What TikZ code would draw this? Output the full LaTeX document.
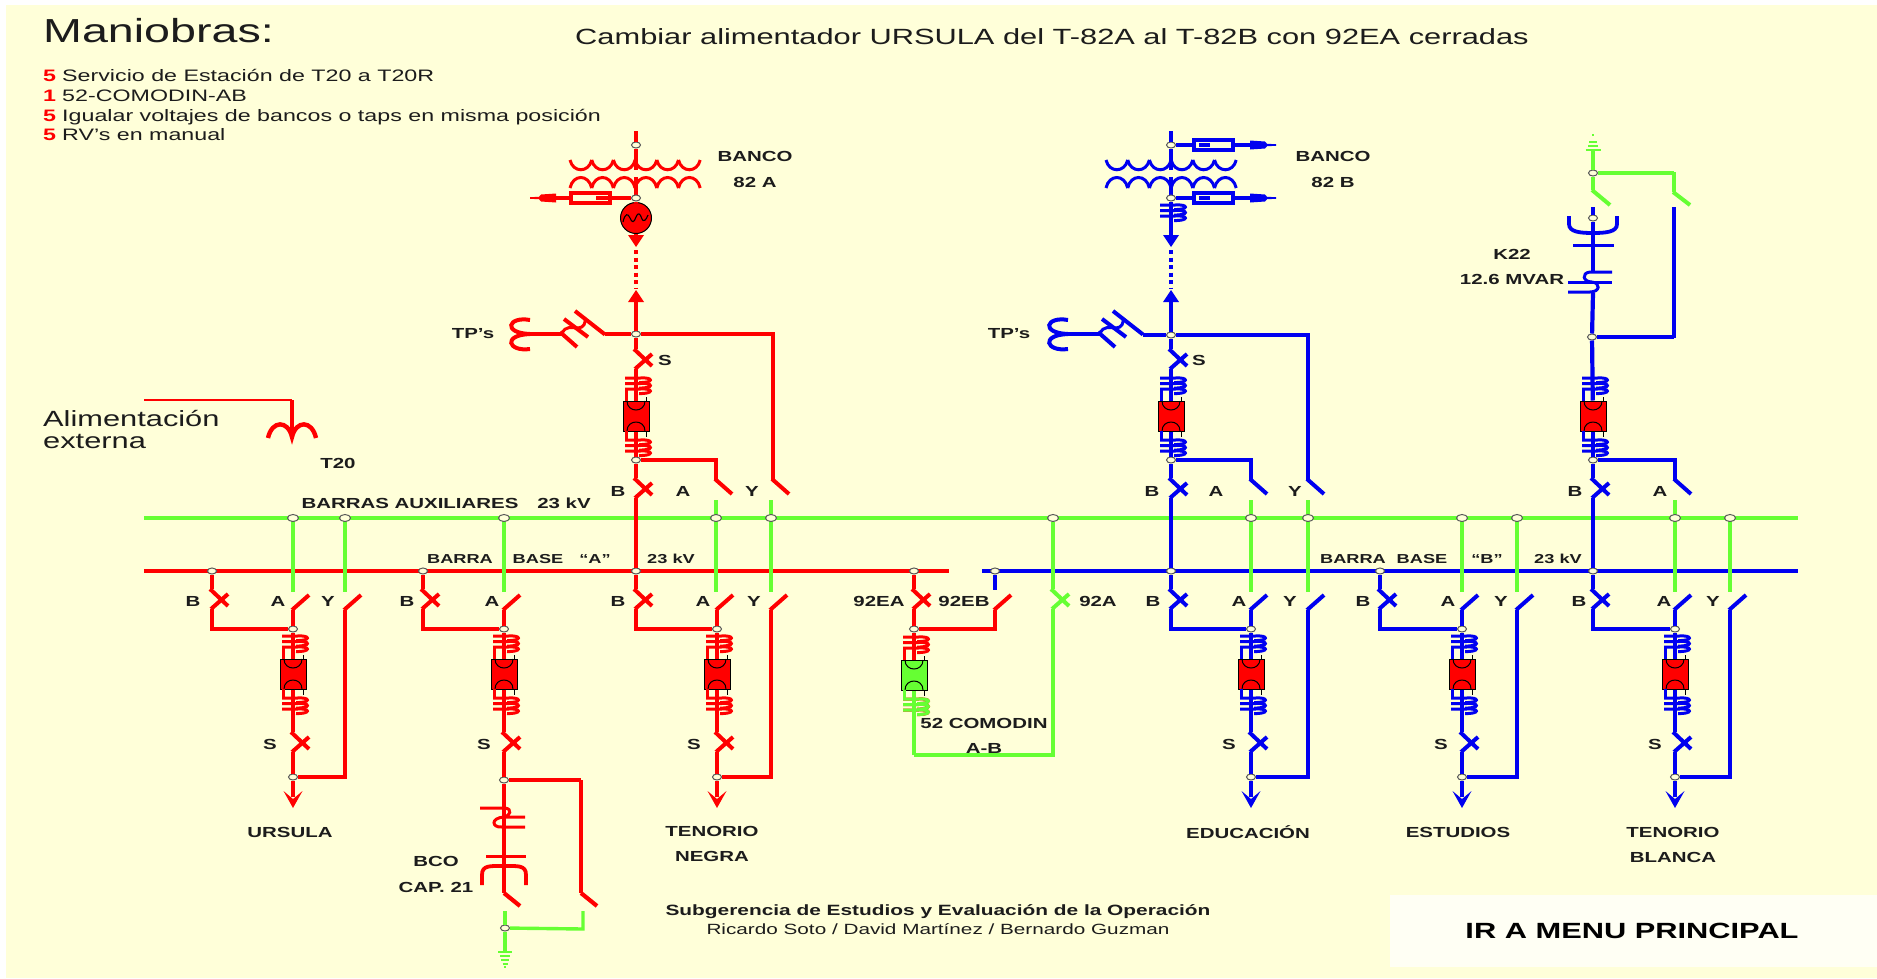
\documentclass[tikz,border=0pt]{standalone}
\usepackage{fontspec}
\setmainfont{Liberation Sans}[FakeStretch=1.4]
\usetikzlibrary{shapes.geometric,calc}
\definecolor{rd}{HTML}{FF0000}
\definecolor{bl}{HTML}{0000F0}
\definecolor{gr}{HTML}{66FF33}
\definecolor{cream}{HTML}{FFFFD9}
\definecolor{boxw}{HTML}{FFFFF4}
\definecolor{txt}{HTML}{1C1C1C}
\tikzset{
  jn/.style={ellipse,draw=black!65,fill=cream,line width=1pt,inner sep=0pt,minimum width=9pt,minimum height=6pt},
  jnb/.style={jn,minimum width=11pt,minimum height=7pt},
  wire/.style={line width=4.2pt},
  thinwire/.style={line width=3.4pt},
  stub/.style={line width=4.8pt},
  bus/.style={line width=3.8pt},
  blade/.style={line width=4pt},
  bar/.style={line width=3pt},
  brkbox/.style={rectangle,draw=black,line width=1pt,inner sep=0pt,minimum width=26pt,minimum height=30pt},
  fuse/.style={rectangle,line width=3.4pt,inner sep=0pt,minimum width=39pt,minimum height=10pt},
  lb/.style={font=\fontsize{14.6}{17}\bfseries\selectfont,text=txt,inner sep=0pt},
  lbs/.style={lb,font=\fontsize{13}{17}\bfseries\selectfont},
}
% closed switch (cross)
\newcommand\xsw[4]{%
  \coordinate (#1t) at (#2,#3-11); \coordinate (#1b) at (#2,#3+9);
  \draw[#4,blade] (#2-2,#3-11) -- (#2+16,#3+6);
  \draw[#4,blade] (#2-1,#3+9) -- (#2+16,#3-6);}
% open switch below a bar, blade rising to the right
\newcommand\swup[3]{%
  \coordinate (#1b) at (#2,610);
  \draw[#3,blade] (#2-1,610) -- (#2+16,595);}
% open switch above a bar
\newcommand\swdn[3]{%
  \coordinate (#1t) at (#2,480);
  \draw[#3,blade] (#2-1,479) -- (#2+16,494);}
% current transformer: three bars
\newcommand\ctc[3]{%
  \foreach \i in {0,5.5,11}{%
    \draw[#3,bar] (#1-11,#2+\i) -- (#1+4,#2+\i) .. controls (#1+18,#2+\i-1) and (#1+18,#2+\i+5) .. (#1+3,#2+\i+4.5);}}
% breaker with its two current transformers
\newcommand\brk[5]{%
  \node[brkbox,fill=#4] (#1) at (#2,#3) {};
  \draw[black,line width=1pt] (#2-9,#3-15) .. controls (#2-9,#3-3) and (#2+9,#3-3) .. (#2+9,#3-15);
  \draw[black,line width=1pt] (#2-9,#3+15) .. controls (#2-9,#3+3) and (#2+9,#3+3) .. (#2+9,#3+15);
  \draw[black,line width=1pt] (#2+10,#3-19) -- (#2+10,#3-15) (#2+10,#3+15) -- (#2+10,#3+21);
  \ctc{#2}{#3-38}{#5}
  \draw[#5,bar] (#2-10,#3-27) -- (#2-10,#3-15);
  \ctc{#2}{#3+24}{#5}
  \draw[#5,bar] (#2-10,#3+15) -- (#2-10,#3+24);}
% arrow heads
\newcommand\hddn[3]{\fill[#3] (#1,#2) -- (#1-9.5,#2-17) -- (#1,#2-9) -- (#1+9.5,#2-17) -- cycle;}
\newcommand\hdup[3]{\fill[#3] (#1,#2) -- (#1-8,#2+12) -- (#1+8,#2+12) -- cycle;}
\newcommand\hdsolid[3]{\fill[#3] (#1,#2) -- (#1-8,#2-12) -- (#1+8,#2-12) -- cycle;}
\newcommand\hdlat[4]{\fill[#4] (#1,#2-4.5) -- (#1+#3*15,#2-3.5) -- (#1+#3*17,#2-1.2) -- (#1+#3*26,#2-.8) -- (#1+#3*26,#2+.8) -- (#1+#3*17,#2+1.2) -- (#1+#3*15,#2+3.5) -- (#1,#2+4.5) -- cycle;}
% feeder from its A switch to its lower junction
\newcommand\feed[4]{%
  \node[jn] (#1j) at (#2,629) {};
  \brk{#1k}{#2}{674}{rd}{#3}
  \xsw{#1s}{#2}{743}{#3}
  \node[jn] (#1e) at (#2,#4) {};
  \swup{#1a}{#2}{#3}
  \draw[#3,wire] (#1ab) -- (#1j);
  \draw[#3,wire] (#1j) -- (#1k);
  \draw[#3,wire] (#1k) -- (#1st);
  \draw[#3,wire] (#1sb) -- (#1e);}
\newcommand\bsw[5]{%
  \xsw{#1x}{#3}{600}{#5}
  \draw[#5,wire] (#2) -- (#1xt);
  \draw[#5,thinwire] (#1xb) |- (#4);}
\newcommand\ysw[4]{%
  \swup{#1y}{#2}{#4}
  \draw[#4,wire] (#1yb) |- (#3);}
\newcommand\outarrow[4]{%
  \coordinate (#1tip) at (#2,808);
  \draw[#3,wire] (#4) -- (#2,797);
  \hddn{#2}{808}{#3}}
\newcommand\gstub[4]{%
  \coordinate (#1p) at (#2,#3); \coordinate (#1q) at (#2,592);
  \draw[gr,stub] (#1p) -- (#1q);
  \node[#4] (#1n) at (#2,518) {};}
\newcommand\winding[4]{%
  \foreach \i in {0,...,5}{%
    \draw[#4,line width=3pt] (#1+21.7*\i,#2) .. controls (#1+21.7*\i+3,#2+#3) and (#1+21.7*\i+18.7,#2+#3) .. (#1+21.7*\i+21.7,#2);}}
\newcommand\tpsym[2]{%
  \begin{scope}[shift={(#1,0)}]
    \draw[#2,line width=4pt] (530,320) .. controls (508,316) and (502,333) .. (530,334) .. controls (502,335) and (508,352) .. (530,349);
    \draw[#2,thinwire] (530,334) -- (562,334);
    \draw[#2,blade] (575,311) -- (605,334.5);
    \draw[#2,blade] (564,319) -- (588,337);
    \draw[#2,blade] (560,332) -- (577,347);
    \draw[#2,bar] (562,334) .. controls (565,325) and (572,328) .. (578,328) .. controls (584,328) and (586,322) .. (585,318);
  \end{scope}}
\newcommand\lbl[4]{\node[lb] (#1) at (#2,#3) {#4};}
\newcommand\lbs[4]{\node[lbs] (#1) at (#2,#3) {#4};}
\begin{document}
\begin{tikzpicture}[x=1pt,y=-1pt]
\useasboundingbox (0,0) rectangle (1877,978);
\fill[white] (0,0) rectangle (1877,978);
\fill[cream] (6,5) rectangle (1877,978);
\fill[boxw] (1390,895) rectangle (1877,967);

% bars
\coordinate (ra) at (144,571); \coordinate (rz) at (949,571);
\coordinate (ba) at (982,571); \coordinate (bz) at (1798,571);
\coordinate (ga) at (144,518); \coordinate (gz) at (1798,518);
\draw[rd,bus] (ra) -- (rz);
\draw[bl,bus] (ba) -- (bz);
\draw[gr,bus] (ga) -- (gz);

% green stubs and junctions on the auxiliary bar
\gstub{g1}{293}{518}{jnb}
\gstub{g2}{345}{518}{jnb}
\gstub{g3}{504}{518}{jnb}
\gstub{g4}{716}{500}{jnb}
\gstub{g5}{771}{500}{jnb}
\gstub{g6}{1251}{500}{jnb}
\gstub{g7}{1308}{500}{jnb}
\gstub{g8}{1462}{518}{jnb}
\gstub{g9}{1517}{518}{jnb}
\gstub{g10}{1675}{500}{jnb}
\gstub{g11}{1730}{518}{jnb}
\node[jnb] (g92) at (1053,518) {};

% junctions on the base bars
\node[jn] (rb1) at (212,571) {};
\node[jn] (rb2) at (423,571) {};
\node[jn] (rb3) at (636,571) {};
\node[jn] (rb4) at (914,571) {};
\node[jn] (bb0) at (995,571) {};
\node[jn] (bb1) at (1171,571) {};
\node[jn] (bb2) at (1380,571) {};
\node[jn] (bb3) at (1593,571) {};

% feeder URSULA
\feed{u}{293}{rd}{777}
\bsw{u}{rb1}{212}{uj}{rd}
\ysw{u}{345}{ue}{rd}
\outarrow{u}{293}{rd}{ue}

% feeder with capacitor bank
\feed{c}{504}{rd}{780}
\bsw{c}{rb2}{423}{cj}{rd}
\coordinate (c1) at (504,893); \coordinate (c2) at (581,893);
\draw[rd,wire] (ce) -- (c1);
\draw[rd,wire] (c1) -- (520,906);
\draw[rd,thinwire] (ce) -- (581,780);
\draw[rd,stub] (581,780) -- (c2);
\draw[rd,wire] (c2) -- (597,906);
\draw[rd,bar] (480,808) -- (505,808) .. controls (513,809) and (510,816) .. (504,817) -- (525,817);
\draw[rd,bar] (504,817) .. controls (490,818) and (492,828) .. (502,827) -- (525,827);
\draw[rd,bar] (486,856) -- (526,856);
\draw[rd,line width=3.8pt] (482,885) -- (482,875) .. controls (482,865) and (490,866) .. (504,866) .. controls (518,866) and (526,865) .. (526,875) -- (526,885);
\node[jn] (cg) at (505,928) {};
\coordinate (cg1) at (505,911); \coordinate (cg2) at (583,911);
\draw[gr,stub] (cg1) -- (cg);
\draw[gr,stub] (cg) -- (505,952);
\draw[gr,thinwire] (cg) -- (583,929) -- (cg2);
\foreach \w/\yy in {7/952,5/956,4/960,2.5/964,1/967}{\draw[gr,line width=1.8pt] (505-\w,\yy) -- (505+\w,\yy);}

% feeder TENORIO NEGRA
\feed{t}{717}{rd}{777}
\bsw{t}{rb3}{636}{tj}{rd}
\ysw{t}{771}{te}{rd}
\outarrow{t}{717}{rd}{te}

% tie 92EA / 92EB / 52 COMODIN
\node[jn] (kj) at (914,629) {};
\brk{kk}{914}{675}{gr}{rd}
\ctc{914}{699}{gr}
\draw[gr,bar] (904,690) -- (904,699);
\xsw{ka}{914}{600}{rd}
\swup{kb}{995}{rd}
\draw[rd,wire] (rb4) -- (kat);
\draw[rd,wire] (kab) -- (kj);
\draw[rd,wire] (kj) -- (kk);
\draw[rd,thinwire] (kj) -| (kbb);
\draw[bl,wire] (bb0) -- (995,590);
\xsw{kc}{1053}{600}{gr}
\coordinate (kd) at (914,755);
\draw[gr,wire] (g92) -- (kct);
\draw[gr,wire] (kcb) |- (kd);
\draw[gr,wire] (kd) -- (kk);

% bank 82 A
\node[jn] (ap0) at (636,145) {};
\coordinate (atop) at (636,131);
\draw[rd,wire] (atop) -- (ap0);
\draw[rd,wire] (ap0) -- (636,170);
\winding{570}{160}{13}{rd}
\winding{570}{188}{-14}{rd}
\draw[rd,wire] (636,177) -- (636,198);
\node[jn] (ap1) at (636,198) {};
\node[fuse,draw=rd] (af) at (590.5,198) {};
\draw[rd,wire] (ap1) -- (af);
\draw[rd,wire] (af) -- (556,198);
\draw[rd,wire] (596,198) -- (608,198);
\hdlat{556}{198}{-1}{rd}
\node[circle,draw=black,line width=1pt,fill=rd,minimum size=31pt,inner sep=0pt] (am) at (636,218) {};
\draw[rd,wire] (ap1) -- (am);
\draw[black,line width=1.1pt] (623,222) .. controls (625,213) and (628,213) .. (630,218) .. controls (632,223) and (634,223) .. (636,217) .. controls (638,212) and (640,213) .. (642,219) .. controls (643,222) and (646,221) .. (648,215);
\coordinate (amd) at (636,247);
\draw[rd,wire] (am) -- (636,236);
\hdsolid{636}{247}{rd}
\draw[rd,wire,dash pattern=on 4pt off 3.5pt] (636,250) -- (636,288);
\hdup{636}{290}{rd}
\node[jn] (ab) at (636,334) {};
\draw[rd,wire] (636,300) -- (ab);
\tpsym{0}{rd}
\draw[rd,wire] (ab) -- (605,334);
\xsw{as}{636}{360}{rd}
\brk{ak}{636}{416}{rd}{rd}
\node[jn] (aj) at (636,460) {};
\xsw{ax}{636}{489}{rd}
\draw[rd,wire] (ab) -- (ast);
\draw[rd,wire] (asb) -- (ak);
\draw[rd,wire] (ak) -- (aj);
\draw[rd,wire] (aj) -- (axt);
\draw[rd,wire] (axb) -- (rb3);
\swdn{aa}{716}{rd}
\swdn{ay}{773}{rd}
\draw[rd,thinwire] (aj) -| (aat);
\draw[rd,wire] (ab) -| (ayt);

% bank 82 B
\node[jn] (bp0) at (1171,145) {};
\coordinate (btop) at (1171,131);
\draw[bl,wire] (btop) -- (bp0);
\draw[bl,wire] (bp0) -- (1171,170);
\winding{1106}{160}{13}{bl}
\winding{1106}{188}{-14}{bl}
\draw[bl,wire] (1171,177) -- (1171,198);
\node[jn] (bp1) at (1171,198) {};
\node[fuse,draw=bl] (bf0) at (1213.5,145) {};
\node[fuse,draw=bl] (bf1) at (1213.5,198) {};
\draw[bl,thinwire] (bp0) -- (bf0);
\draw[bl,thinwire] (bp1) -- (bf1);
\draw[bl,thinwire] (bf0) -- (1250,145);
\draw[bl,thinwire] (bf1) -- (1250,198);
\draw[bl,thinwire] (1199,145) -- (1210,145);
\draw[bl,thinwire] (1199,198) -- (1210,198);
\hdlat{1250}{145}{1}{bl}
\hdlat{1250}{198}{1}{bl}
\ctc{1171}{205}{bl}
\draw[bl,wire] (bp1) -- (1171,236);
\hdsolid{1171}{247}{bl}
\draw[bl,wire,dash pattern=on 4pt off 3.5pt] (1171,250) -- (1171,288);
\hdup{1171}{290}{bl}
\node[jn] (bb) at (1171,335) {};
\draw[bl,wire] (1171,300) -- (bb);
\tpsym{538}{bl}
\draw[bl,wire] (bb) -- (1143,335);
\xsw{bs}{1171}{360}{bl}
\brk{bk}{1171}{416}{rd}{bl}
\node[jn] (bj) at (1171,460) {};
\xsw{bx}{1171}{489}{bl}
\draw[bl,wire] (bb) -- (bst);
\draw[bl,wire] (bsb) -- (bk);
\draw[bl,wire] (bk) -- (bj);
\draw[bl,wire] (bj) -- (bxt);
\draw[bl,wire] (bxb) -- (bb1);
\swdn{ba2}{1251}{bl}
\swdn{by2}{1308}{bl}
\draw[bl,thinwire] (bj) -| (ba2t);
\draw[bl,wire] (bb) -| (by2t);

% K22 column
\node[jn] (ka0) at (1593,173) {};
\coordinate (kt1) at (1593,150);
\draw[gr,stub] (kt1) -- (ka0);
\draw[gr,stub] (ka0) -- (1593,190);
\draw[gr,blade] (1592,190) -- (1610,205);
\draw[gr,thinwire] (ka0) -- (1674,173);
\draw[gr,stub] (1674,172) -- (1674,192);
\draw[gr,blade] (1673,192) -- (1690,205);
\foreach \w/\yy in {7.5/150,5/146,4/142,1/135}{\draw[gr,line width=1.8pt] (1593-\w,\yy) -- (1593+\w,\yy);}
\node[jn] (ka1) at (1593,218) {};
\node[jn] (ka2) at (1592,337) {};
\coordinate (ka3) at (1593,207); \coordinate (ka4) at (1674,207);
\draw[bl,wire] (ka3) -- (ka1);
\draw[bl,wire] (ka1) -- (1593,272);
\draw[bl,line width=3.8pt] (1569,216) -- (1569,224) .. controls (1569,232) and (1580,233) .. (1593,233) .. controls (1606,233) and (1617,232) .. (1617,224) -- (1617,216);
\draw[bl,bar] (1573,245) -- (1614,245);
\draw[bl,bar] (1612,272) -- (1590,272) .. controls (1581,273) and (1583,282) .. (1592,282);
\draw[bl,bar] (1568,282) -- (1612,282);
\draw[bl,bar] (1592,282) .. controls (1601,283) and (1600,292) .. (1590,292) -- (1568,292);
\draw[bl,wire] (1593,293) -- (ka2);
\draw[bl,wire] (ka2) -- (1674,337);
\draw[bl,stub] (1674,338) -- (ka4);
\brk{kak}{1593}{416}{rd}{bl}
\node[jn] (kaj) at (1593,460) {};
\xsw{kax}{1593}{489}{bl}
\draw[bl,wire] (ka2) -- (kak);
\draw[bl,wire] (kak) -- (kaj);
\draw[bl,wire] (kaj) -- (kaxt);
\draw[bl,wire] (kaxb) -- (bb3);
\swdn{kaa}{1675}{bl}
\draw[bl,thinwire] (kaj) -| (kaat);

% feeder EDUCACION
\feed{e}{1251}{bl}{777}
\bsw{e}{bb1}{1171}{ej}{bl}
\ysw{e}{1308}{ee}{bl}
\outarrow{e}{1251}{bl}{ee}
% feeder ESTUDIOS
\feed{s}{1462}{bl}{777}
\bsw{s}{bb2}{1380}{sj}{bl}
\ysw{s}{1517}{se}{bl}
\outarrow{s}{1462}{bl}{se}
% feeder TENORIO BLANCA
\feed{w}{1675}{bl}{777}
\bsw{w}{bb3}{1593}{wj}{bl}
\ysw{w}{1730}{we}{bl}
\outarrow{w}{1675}{bl}{we}

% T20
\coordinate (t0) at (144,400); \coordinate (t1) at (292,400); \coordinate (t2) at (292,435);
\draw[rd,line width=2.4pt] (t0) -- (t1);
\draw[rd,line width=4.4pt] (t1) -- (t2);
\draw[rd,line width=4.4pt] (268,438) .. controls (272,420) and (288,420) .. (292,437) .. controls (296,420) and (312,420) .. (316,438);

% texts
\node[anchor=west,inner sep=0pt,text=txt,font=\fontsize{33.3}{36}\selectfont] (tit) at (43,31) {Maniobras:};
\node[inner sep=0pt,text=txt,font=\fontsize{22}{26}\selectfont] (sub) at (1052,37) {Cambiar alimentador URSULA del T-82A al T-82B con 92EA cerradas};
\foreach \n/\yy/\d/\t in {l1/75/5/Servicio de Estación de T20 a T20R,l2/95/1/52-COMODIN-AB,l3/115/5/Igualar voltajes de bancos o taps en misma posición,l4/134/5/RV’s en manual}{
  \node[anchor=base west,inner sep=0pt,text=rd,font=\fontsize{16.6}{20}\bfseries\selectfont] (\n d) at (43,\yy+6) {\d};
  \node[anchor=base west,inner sep=0pt,text=txt,font=\fontsize{16.6}{20}\selectfont] (\n) at (62,\yy+6) {\t};
}
\node[anchor=west,inner sep=0pt,text=txt,font=\fontsize{22}{26}\selectfont] (ali1) at (43,418) {Alimentación};
\node[anchor=west,inner sep=0pt,text=txt,font=\fontsize{22}{26}\selectfont] (ali2) at (43,441) {externa};
\lbl{x1}{755}{156}{BANCO}
\lbl{x2}{755}{182}{82 A}
\lbl{x3}{1333}{156}{BANCO}
\lbl{x4}{1333}{182}{82 B}
\lbl{x5}{473}{334}{TP’s}
\lbl{x6}{1009}{334}{TP’s}
\lbl{x7}{665}{360}{S}
\lbl{x8}{1199}{360}{S}
\lbl{x9}{1512}{254}{K22}
\lbl{x10}{1512}{279}{12.6 MVAR}
\lbl{x11}{338}{463}{T20}
\lbl{x12}{410}{503}{BARRAS AUXILIARES}
\lbl{x13}{564}{503}{23 kV}
\lbs{x14}{460}{559}{BARRA}
\lbs{x15}{538}{559}{BASE}
\lbs{x16}{595}{559}{“A”}
\lbs{x17}{671}{559}{23 kV}
\lbs{x18}{1353}{559}{BARRA}
\lbs{x19}{1422}{559}{BASE}
\lbs{x20}{1487}{559}{“B”}
\lbs{x21}{1558}{559}{23 kV}
\foreach \n/\xx/\t in {a1/618/B,a2/683/A,a3/752/Y,a4/1152/B,a5/1216/A,a6/1295/Y,a7/1575/B,a8/1660/A}{\lbl{\n}{\xx}{491}{\t}}
\foreach \n/\xx/\t in {b1/193/B,b2/278/A,b3/328/Y,b4/407/B,b5/492/A,b6/618/B,b7/703/A,b8/754/Y,b9/879/92EA,b10/964/92EB,b11/1098/92A,b12/1153/B,b13/1239/A,b14/1290/Y,b15/1363/B,b16/1448/A,b17/1501/Y,b18/1579/B,b19/1664/A,b20/1713/Y}{\lbl{\n}{\xx}{601}{\t}}
\foreach \n/\xx in {s1/270,s2/484,s3/694,s4/1229,s5/1441,s6/1655}{\lbl{\n}{\xx}{744}{S}}
\lbl{y1}{984}{723}{52 COMODIN}
\lbl{y2}{984}{748}{A-B}
\lbl{y3}{290}{832}{URSULA}
\lbl{y4}{712}{831}{TENORIO}
\lbl{y5}{712}{856}{NEGRA}
\lbl{y6}{1248}{832}{EDUCACIÓN}
\lbl{y7}{1458}{832}{ESTUDIOS}
\lbl{y8}{1673}{832}{TENORIO}
\lbl{y9}{1673}{857}{BLANCA}
\lbl{y10}{436}{861}{BCO}
\lbl{y11}{436}{887}{CAP. 21}
\node[lb,font=\fontsize{14.9}{17}\bfseries\selectfont] (y12) at (938,912) {Subgerencia de Estudios y Evaluación de la Operación};
\node[inner sep=0pt,text=txt,font=\fontsize{14.8}{17}\selectfont] (y13) at (938,929) {Ricardo Soto / David Martínez / Bernardo Guzman};
\node[inner sep=0pt,text=black,font=\fontsize{22}{26}\bfseries\selectfont] (menu) at (1632,931) {IR A MENU PRINCIPAL};
\end{tikzpicture}
\end{document}
